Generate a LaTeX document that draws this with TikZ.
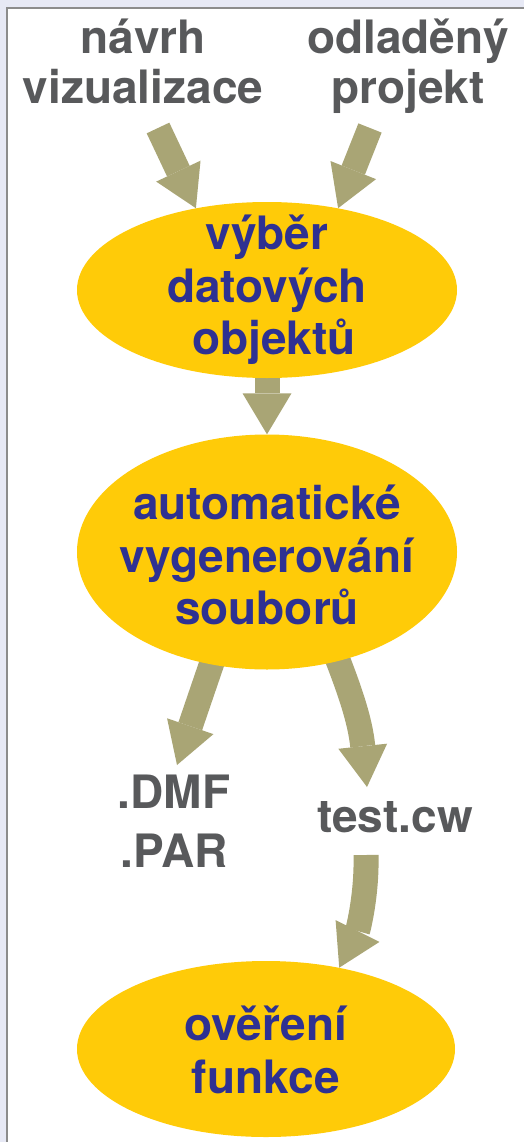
\documentclass[tikz,border=0pt]{standalone}
\usepackage{fontspec}
\setmainfont{TeX Gyre Heros}
\usetikzlibrary{arrows.meta,shapes.geometric,calc}
\definecolor{bgl}{RGB}{231,233,245}
\definecolor{frm}{RGB}{140,140,140}
\definecolor{olv}{RGB}{169,165,117}
\definecolor{ylw}{RGB}{255,203,8}
\definecolor{blu}{RGB}{46,49,146}
\definecolor{gry}{RGB}{88,89,91}
\pgfdeclarelayer{back}
\pgfdeclarelayer{bg}
\pgfsetlayers{back,bg,main}
\begin{document}
\begin{tikzpicture}[x=1pt,y=-1pt,
  ell/.style={ellipse, fill=ylw, inner sep=0pt},
  etext/.style={text=blu, align=center, inner sep=0pt,
    font=\bfseries\fontsize{46}{52.5}\selectfont},
  gtext/.style={text=gry, font=\bfseries\fontsize{46}{50}\selectfont, align=center, inner sep=0pt},
  arr/.style={draw=olv, line width=25pt, -{Triangle[length=41pt,width=49pt,line width=0pt]}}]
\useasboundingbox (0,0) rectangle (524,1142);
\begin{pgfonlayer}{back}
\clip (0,0) rectangle (524,1142);
\fill[bgl] (0,0) rectangle (524,1142);
\draw[frm, line width=1.5pt, fill=white] (7,8) rectangle (560,1180);
\end{pgfonlayer}

\node[gtext] (t1) at (143,61) {návrh\\vizualizace};
\node[gtext] (t2) at (408,66) {odladěný\\projekt};

\node[ell, minimum width=380pt, minimum height=176pt] (e1) at (267,290) {};
\node[etext] (l1) at (e1) {výběr\\datových\\\hspace*{14pt}objektů};
\node[ell, minimum width=380pt, minimum height=235pt] (e2) at (267,552) {};
\node[etext] (l2) at (267,555) {automatické\\vygenerování\\souborů};
\node[ell, minimum width=378pt, minimum height=176pt] (e3) at (266,1049) {};
\node[etext] (l3) at (266,1050) {ověření\\funkce};

\node[gtext, font=\bfseries\fontsize{46}{59}\selectfont] (t3) at (174,821) {.DMF\\.PAR};
\node[gtext] (t4) at (395,817) {test.cw};

\coordinate (s1) at (158,128);
\coordinate (s2) at (370,128);
\coordinate (s4) at (218,645);
\coordinate (s5) at (330,640);
\coordinate (s6) at (366,855);

\begin{pgfonlayer}{bg}
\draw[arr] (s1) -- (e1.131.5);
\draw[arr] (s2) -- (e1.49);
\draw[arr] (e1.south) -- (e2.north);
\draw[arr] (s4) -- (177,765);
\draw[arr] (s5) .. controls (350,690) and (360,720) .. (367,787);
\draw[arr] (s6) .. controls (367,895) and (358,930) .. (e3.48.5);
\end{pgfonlayer}
\end{tikzpicture}
\end{document}
